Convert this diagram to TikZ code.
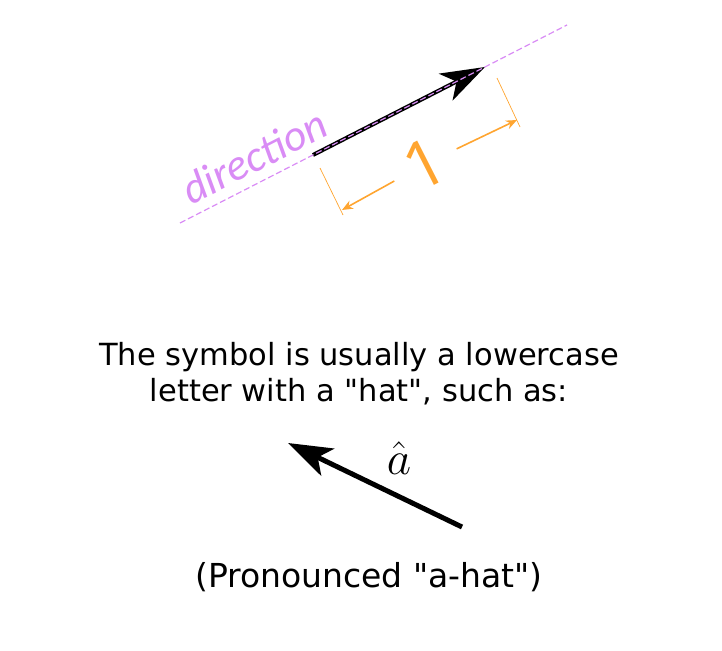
\documentclass[tikz,border=0pt]{standalone}
\usepackage{fontspec}
\usepackage{tikz}
\usetikzlibrary{arrows.meta, positioning, calc}
\setsansfont{DejaVu Sans}
\newfontfamily\handfont{Carlito}
\newfontfamily\onefont{Open Sans}
\definecolor{dirviolet}{HTML}{D98CF5}
\definecolor{dimorange}{HTML}{FFA530}

\begin{document}
\begin{tikzpicture}[x=1pt, y=-1pt,
    dirline/.style={dash pattern=on 6pt off 3pt, dirviolet, line width=1.2pt},
    vec/.style={-{Stealth[length=44pt, width=30pt, inset=12pt]}, line width=4pt, black},
    bigvec/.style={-{Stealth[length=44pt, width=30pt, inset=11pt]}, line width=5pt, black},
    tickline/.style={dimorange, line width=0.7pt},
    dim/.style={-{Stealth[length=11pt, width=9pt]}, dimorange, line width=1.6pt},
    txt/.style={font=\sffamily\fontsize{30.5}{36}\selectfont, align=center}
]
    \useasboundingbox (0,0) rectangle (722,650);

    % unit vector on its direction line
    \coordinate (d0) at (180,223);
    \coordinate (d1) at (567,25);
    \coordinate (u0) at (313,155);
    \coordinate (u1) at (485,67);
    \draw[vec] (u0) -- (u1);
    \draw[dirline] (d0) -- (d1);
    \node[rotate=27, anchor=base, inner sep=0pt, text=dirviolet, font=\handfont\itshape\fontsize{44}{44}\selectfont] (dir) at (261,170) {direction};

    % length 1
    \coordinate (t0a) at (320,168);
    \coordinate (t0b) at (343,215);
    \coordinate (t1a) at (497,78);
    \coordinate (t1b) at (520,127);
    \coordinate (a0) at (342,210);
    \coordinate (a1) at (517,120);
    \draw[tickline] (t0a) -- (t0b);
    \draw[tickline] (t1a) -- (t1b);
    \node[rotate=27, text=dimorange, inner xsep=16pt, font=\onefont\fontsize{66}{66}\selectfont] (one) at (425,164) {1};
    \draw[dim] (one) -- (a0);
    \draw[dim] (one) -- (a1);

    % the symbol
    \node[txt] (sym) at (359,374) {The symbol is usually a lowercase\\letter with a \textquotedbl hat\textquotedbl, such as:};
    \coordinate (b0) at (462,527);
    \coordinate (b1) at (288,443);
    \draw[bigvec] (b0) -- (b1);
    \node (ahat) at (399,458) {\scalebox{1.9}{\fontsize{24.88}{25}\selectfont$\hat{a}$}};
    \node[txt, font=\sffamily\fontsize{33}{36}\selectfont] (pron) at (369,577) {(Pronounced \textquotedbl a-hat\textquotedbl)};
\end{tikzpicture}
\end{document}
